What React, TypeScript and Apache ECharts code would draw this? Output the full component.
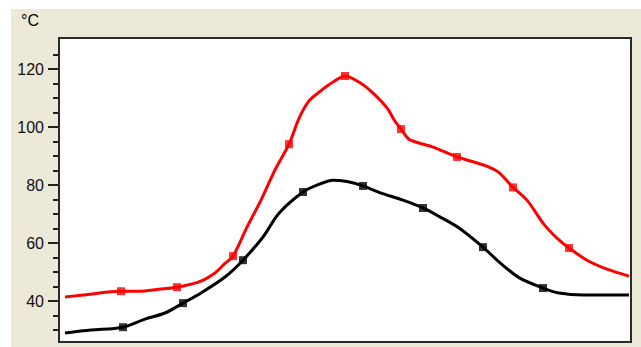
import React, { useEffect, useRef } from "react";
import * as echarts from "echarts";

// Time (arbitrary units) and temperature (°C)
const redTime = [3, 12, 31, 40, 50, 59, 70, 78, 83, 87, 94, 101, 108, 115, 120, 125, 130, 137, 143, 150, 157, 164, 168, 171, 175, 180, 187, 199, 209, 215, 220, 227, 234, 242, 249, 255, 264, 274, 285];
const redTemp = [41.4, 42.1, 43.4, 43.4, 44.1, 44.8, 46.6, 49.7, 53.0, 55.5, 65.5, 74.8, 85.2, 94.1, 103.0, 109.0, 112.0, 115.5, 117.6, 115.5, 111.7, 106.6, 102.0, 99.3, 95.8, 94.5, 93.1, 89.7, 87.6, 86.2, 84.3, 79.2, 74.8, 66.9, 61.7, 58.3, 54.1, 51.0, 48.6];
const redMarkerIdx = [2, 5, 9, 13, 18, 23, 27, 31, 35];

const blackTime = [3, 16, 32, 43, 53, 62, 71, 83, 92, 102, 110, 122, 129, 137, 144, 152, 160, 172, 182, 190, 200, 212, 220, 230, 242, 250, 262, 285];
const blackTemp = [29.0, 30.0, 31.0, 33.8, 35.9, 39.3, 42.8, 48.3, 54.1, 62.1, 70.3, 77.6, 80.0, 81.7, 81.2, 79.7, 77.5, 74.8, 72.1, 69.2, 65.2, 58.6, 53.5, 48.1, 44.5, 42.8, 42.1, 42.1];
const blackMarkerIdx = [2, 5, 8, 11, 15, 18, 21, 24];

const yLabelValues = [40, 60, 80, 100, 120];
const yMinorTickValues = [30, 35, 40, 45, 50, 55, 60, 65, 70, 75, 80, 85, 90, 95, 100, 105, 110, 115, 120, 125];
const unitLabel = "°C";

const pairs = (xs: number[], ys: number[]) => xs.map((x, i) => [x, ys[i]]);
const picks = (xs: number[], ys: number[], idx: number[]) => idx.map((i) => [xs[i], ys[i]]);

export default function App() {
  const ref = useRef<HTMLDivElement>(null);
  useEffect(() => {
    document.body.style.margin = "0";
    const chart = echarts.init(ref.current!, null, { renderer: "svg" });
    const yMin = 25.9;
    const yMax = 130.7;
    chart.setOption({
      animation: false,
      backgroundColor: "#ffffff",
      graphic: {
        elements: [
          {
            type: "rect",
            z: -100,
            silent: true,
            shape: { x: 11, y: 9, width: 630, height: 338 },
            style: { fill: "#ECE9D8" },
          },
          {
            type: "text",
            z: 100,
            x: 21,
            y: 12,
            style: {
              text: unitLabel,
              fill: "#000",
              fontSize: 16,
              fontFamily: "'Liberation Sans', Arial, sans-serif",
            },
          },
        ],
      },
      grid: {
        left: 59,
        top: 38,
        right: 10,
        bottom: 5,
        show: true,
        backgroundColor: "#ffffff",
        borderColor: "#2a2a2a",
        borderWidth: 2,
        z: 1,
      },
      xAxis: {
        type: "value",
        min: 0,
        max: 286,
        show: false,
      },
      yAxis: [
        {
          type: "value",
          min: yMin,
          max: yMax,
          position: "left",
          axisLine: { show: false },
          splitLine: { show: false },
          axisTick: {
            show: true,
            length: 6,
            customValues: yMinorTickValues,
            lineStyle: { color: "#222", width: 2 },
          },
          axisLabel: { show: false },
        },
        {
          type: "value",
          min: yMin,
          max: yMax,
          position: "left",
          offset: 0,
          axisLine: { show: false },
          splitLine: { show: false },
          axisTick: {
            show: true,
            length: 11,
            customValues: yLabelValues,
            lineStyle: { color: "#222", width: 2 },
          },
          axisLabel: {
            show: true,
            customValues: yLabelValues,
            margin: 15,
            color: "#111",
            fontSize: 16,
            fontFamily: "'Liberation Sans', Arial, sans-serif",
          },
        },
      ],
      series: [
        {
          type: "line",
          data: pairs(blackTime, blackTemp),
          smooth: 0.3,
          showSymbol: false,
          lineStyle: { color: "#000000", width: 3 },
          z: 3,
        },
        {
          type: "scatter",
          data: picks(blackTime, blackTemp, blackMarkerIdx),
          symbol: "rect",
          symbolSize: 8,
          itemStyle: { color: "#000000" },
          z: 4,
        },
        {
          type: "line",
          data: pairs(redTime, redTemp),
          smooth: 0.3,
          showSymbol: false,
          lineStyle: { color: "#ff0000", width: 3 },
          z: 5,
        },
        {
          type: "scatter",
          data: picks(redTime, redTemp, redMarkerIdx),
          symbol: "rect",
          symbolSize: 8,
          itemStyle: { color: "#ff0000" },
          z: 6,
        },
      ],
    });
    return () => chart.dispose();
  }, []);
  return <div ref={ref} style={{ width: 641, height: 347 }} />;
}
